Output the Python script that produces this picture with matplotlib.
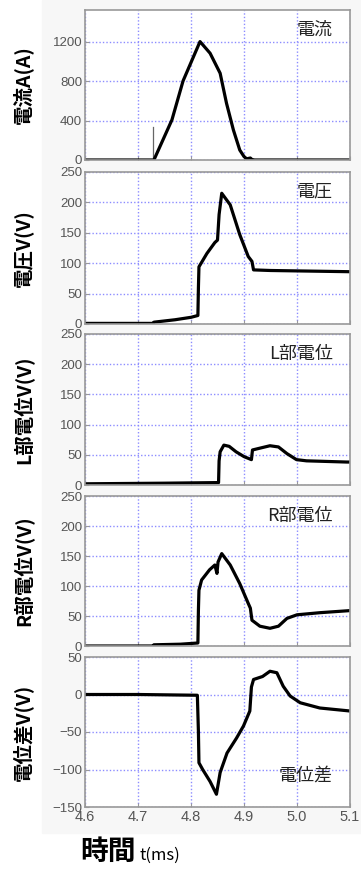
import matplotlib.pyplot as plt
from matplotlib.patches import Rectangle

plt.rcParams['font.family'] = ['Liberation Sans', 'Noto Sans CJK JP', 'DejaVu Sans']

# ---- data (t in ms) ----
cur_t = [4.60, 4.730, 4.764, 4.785, 4.817, 4.836, 4.855,
         4.867, 4.880, 4.892, 4.900, 4.905, 4.912, 4.915, 4.92, 5.10]
cur_v = [0, 0, 406, 801, 1200, 1082, 879,
         575, 304, 101, 35, 12, 20, 5, 0, 0]
# thin trigger spike just before the current rise
spike_t = [4.729, 4.729]
spike_v = [0, 330]

volt_t = [4.60, 4.728, 4.730, 4.77, 4.80, 4.813, 4.814, 4.815, 4.83, 4.845, 4.850,
          4.853, 4.858, 4.874, 4.892, 4.908, 4.915, 4.918, 4.95, 5.10]
volt_v = [1, 1, 3, 7, 11, 14, 60, 94, 116, 134, 138,
          180, 215, 196, 147, 111, 103, 89, 88, 86]

l_t = [4.60, 4.75, 4.852, 4.853, 4.855, 4.862, 4.872, 4.885, 4.900, 4.914,
       4.916, 4.930, 4.949, 4.965, 4.981, 4.999, 5.018, 5.094, 5.10]
l_v = [2, 3, 4, 40, 55, 66, 64, 55, 47, 42,
       58, 61, 65, 63, 52, 42, 40, 38, 38]

r_t = [4.60, 4.728, 4.730, 4.78, 4.813, 4.814, 4.815, 4.82, 4.835, 4.845, 4.849,
       4.851, 4.858, 4.874, 4.892, 4.908, 4.912, 4.915, 4.930, 4.949, 4.965,
       4.981, 5.000, 5.043, 5.10]
r_v = [0, 0, 2, 3, 5, 60, 93, 110, 127, 135, 121,
       140, 154, 135, 104, 71, 63, 43, 33, 29.5, 33,
       46, 52, 55.5, 59]

d_t = [4.60, 4.70, 4.812, 4.814, 4.815, 4.822, 4.836, 4.848, 4.855, 4.868,
       4.886, 4.899, 4.911, 4.914, 4.918, 4.935, 4.949, 4.962, 4.974, 4.987,
       5.006, 5.043, 5.10]
d_v = [0, 0, -1, -50, -91, -100, -116, -133, -104, -78,
       -58, -42, -22, 10, 20, 24, 31, 29, 11, -2,
       -11, -18, -22]

panel_names = ["電流", "電圧", "L部電位", "R部電位", "電位差"]
y_labels = ["電流A(A)", "電圧V(V)", "L部電位V(V)", "R部電位V(V)", "電位差V(V)"]
y_lims = [(0, 1520), (0, 250), (0, 250), (0, 250), (-150, 50)]
y_ticks = [[0, 400, 800, 1200], [0, 50, 100, 150, 200, 250], [0, 50, 100, 150, 200, 250],
           [0, 50, 100, 150, 200, 250], [-150, -100, -50, 0, 50]]
x_ticks = [4.6, 4.7, 4.8, 4.9, 5.0, 5.1]
x_tick_labels = ["4.6", "4.7", "4.8", "4.9", "5.0", "5.1"]

series = [(cur_t, cur_v), (volt_t, volt_v), (l_t, l_v), (r_t, r_v), (d_t, d_v)]
cjk = ['Noto Sans CJK JP', 'DejaVu Sans']

W, H = 361, 871
fig = plt.figure(figsize=(W / 100, H / 100), dpi=100)

# faint grey backdrop behind the plotting area
fig.patches.append(Rectangle((42 / W, 1 - 833 / H), 1, 833 / H,
                             transform=fig.transFigure, color='#f7f7f7', zorder=-10))

# panel pixel bounds (top, bottom)
bounds = [(10, 160), (172, 324), (334, 485), (496, 646), (657, 807)]
left, right = 85, 350

for i, ((top, bot), (t, v)) in enumerate(zip(bounds, series)):
    ax = fig.add_axes([left / W, 1 - bot / H, (right - left) / W, (bot - top) / H])
    ax.set_zorder(1)
    ax.set_facecolor('white')
    if i == 0:
        ax.plot(spike_t, spike_v, color='#666666', lw=0.9)
    ax.plot(t, v, color='black', lw=2.3, solid_joinstyle='round')
    ax.set_xlim(4.6, 5.1)
    ax.set_ylim(*y_lims[i])
    ax.set_xticks(x_ticks)
    ax.set_yticks(y_ticks[i])
    ax.grid(True, color='#8c8cff', linestyle=(0, (1, 1.5)), lw=1.0)
    for s in ax.spines.values():
        s.set_color('#999999')
        s.set_linewidth(1.2)
    ax.tick_params(direction='in', length=3, color='#999999', labelsize=9.5,
                   labelcolor='#555555', pad=2)
    if i < 4:
        ax.set_xticklabels([])
    else:
        ax.set_xticklabels(x_tick_labels)
        ax.tick_params(axis='x', labelsize=10.5, pad=2)
    ax.set_ylabel(y_labels[i], fontsize=14, fontweight='bold', family=cjk)
    ax.yaxis.set_label_coords(-52 / (right - left), 0.5)
    if i < 4:
        ax.text(0.935, 0.93, panel_names[i], transform=ax.transAxes, ha='right', va='top',
                fontsize=13, color='#222222', family=cjk)
    else:
        ax.text(0.935, 0.21, panel_names[i], transform=ax.transAxes, ha='right', va='center',
                fontsize=13, color='#222222', family=cjk)

fig.text(80 / W, 1 - 852 / H, "時間", fontsize=20, fontweight='bold', ha='left', va='center',
         family=cjk)
fig.text(140 / W, 1 - 855 / H, "t(ms)", fontsize=12, ha='left', va='center', family=cjk)

fig.savefig("out.png", dpi=100)
